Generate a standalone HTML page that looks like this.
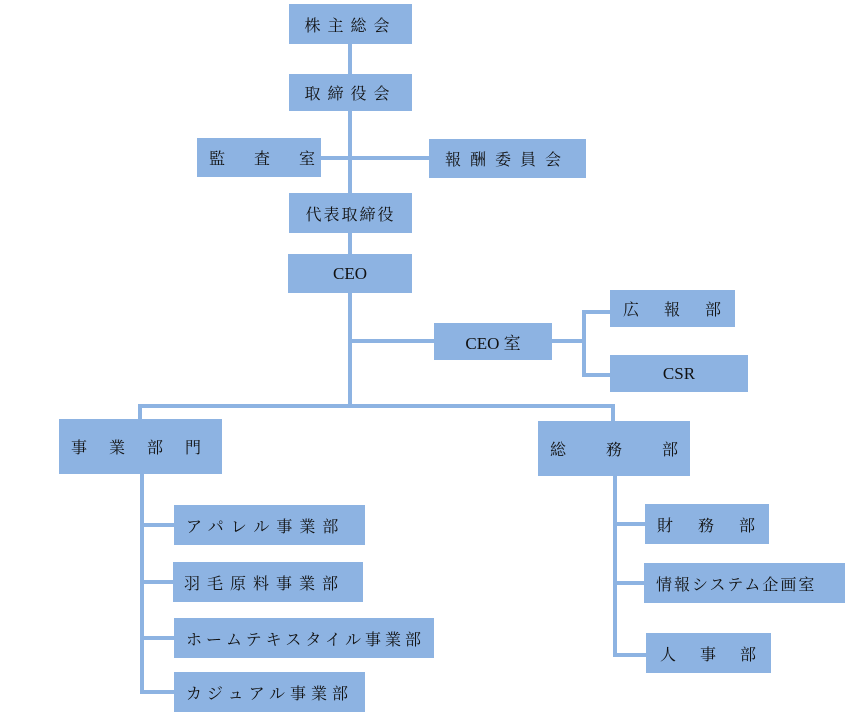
<!DOCTYPE html>
<html><head><meta charset="utf-8"><style>
body{margin:0;width:848px;height:721px;background:#fff;position:relative;overflow:hidden;font-family:"Liberation Serif","Noto Serif CJK SC",serif;}
.b{position:absolute;background:#8db3e2;color:#111;font-size:16px;display:flex;align-items:center;box-sizing:border-box;white-space:nowrap;}
.c{justify-content:center;}
.l{position:absolute;background:#8db3e2;}
</style></head><body>
<div class="l" style="left:348px;top:44px;width:4px;height:364px"></div>
<div class="l" style="left:321px;top:156px;width:108px;height:4px"></div>
<div class="l" style="left:350px;top:339px;width:84px;height:4px"></div>
<div class="l" style="left:552px;top:339px;width:32px;height:4px"></div>
<div class="l" style="left:582px;top:310px;width:4px;height:67px"></div>
<div class="l" style="left:582px;top:310px;width:28px;height:4px"></div>
<div class="l" style="left:582px;top:373px;width:28px;height:4px"></div>
<div class="l" style="left:138px;top:404px;width:477px;height:4px"></div>
<div class="l" style="left:138px;top:404px;width:4px;height:16px"></div>
<div class="l" style="left:611px;top:404px;width:4px;height:18px"></div>
<div class="l" style="left:140px;top:474px;width:4px;height:220px"></div>
<div class="l" style="left:140px;top:523px;width:34px;height:4px"></div>
<div class="l" style="left:140px;top:580px;width:34px;height:4px"></div>
<div class="l" style="left:140px;top:636px;width:34px;height:4px"></div>
<div class="l" style="left:140px;top:690px;width:34px;height:4px"></div>
<div class="l" style="left:613px;top:476px;width:4px;height:181px"></div>
<div class="l" style="left:613px;top:522px;width:32px;height:4px"></div>
<div class="l" style="left:613px;top:581px;width:32px;height:4px"></div>
<div class="l" style="left:613px;top:653px;width:33px;height:4px"></div>
<div class="b c" style="left:289px;top:4px;width:123px;height:40px;letter-spacing:7px">株主総会</div>
<div class="b c" style="left:289px;top:74px;width:123px;height:37px;letter-spacing:7px">取締役会</div>
<div class="b" style="left:197px;top:138px;width:124px;height:39px;padding-left:12px;letter-spacing:29px">監査室</div>
<div class="b c" style="left:429px;top:139px;width:157px;height:39px;letter-spacing:9px">報酬委員会</div>
<div class="b c" style="left:289px;top:193px;width:123px;height:40px;letter-spacing:2px">代表取締役</div>
<div class="b c" style="left:288px;top:254px;width:124px;height:39px;font-size:17px">CEO</div>
<div class="b c" style="left:434px;top:323px;width:118px;height:37px;font-size:17px">CEO 室</div>
<div class="b" style="left:610px;top:290px;width:125px;height:37px;padding-left:13px;letter-spacing:25px">広報部</div>
<div class="b c" style="left:610px;top:355px;width:138px;height:37px;font-size:17px">CSR</div>
<div class="b" style="left:59px;top:419px;width:163px;height:55px;padding-left:12px;letter-spacing:22px">事業部門</div>
<div class="b" style="left:538px;top:421px;width:152px;height:55px;padding-left:12px;letter-spacing:40px">総務部</div>
<div class="b" style="left:174px;top:505px;width:191px;height:40px;padding-left:12px;letter-spacing:7px">アパレル事業部</div>
<div class="b" style="left:173px;top:562px;width:190px;height:40px;padding-left:11px;letter-spacing:7px">羽毛原料事業部</div>
<div class="b" style="left:174px;top:618px;width:260px;height:40px;padding-left:12px;letter-spacing:4px">ホームテキスタイル事業部</div>
<div class="b" style="left:174px;top:672px;width:191px;height:40px;padding-left:12px;letter-spacing:5px">カジュアル事業部</div>
<div class="b" style="left:645px;top:504px;width:124px;height:40px;padding-left:12px;letter-spacing:25px">財務部</div>
<div class="b" style="left:644px;top:563px;width:201px;height:40px;padding-left:12px;letter-spacing:2px">情報システム企画室</div>
<div class="b" style="left:646px;top:633px;width:125px;height:40px;padding-left:14px;letter-spacing:24px">人事部</div>
</body></html>
